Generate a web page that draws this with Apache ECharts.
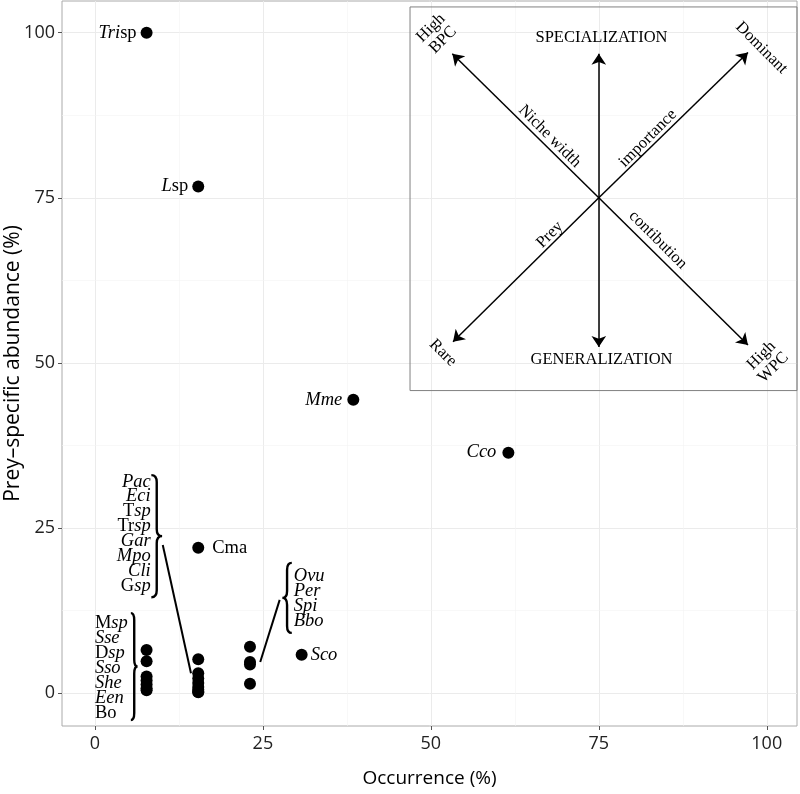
<!DOCTYPE html>
<html><head><meta charset="utf-8">
<script src="https://cdn.jsdelivr.net/npm/echarts@6/dist/echarts.min.js"></script>
<style>html,body{margin:0;padding:0;background:#fff}#c{width:800px;height:794px}</style>
</head><body><div id="c"></div>
<script>
// ---------- data ----------
const preyNames  = ['Trisp','Lsp','Mme','Cco','Cma','Sco',
                    'Msp','Sse','Dsp','Sso','She','Een','Bo',
                    'Pac','Eci','Tsp','Trsp','Gar','Mpo','Cli','Gsp',
                    'Ovu','Per','Spi','Bbo'];
const occurrence = [7.69,15.38,38.46,61.54,15.38,30.77,
                    7.69,7.69,7.69,7.69,7.69,7.69,7.69,
                    15.38,15.38,15.38,15.38,15.38,15.38,15.38,15.38,
                    23.08,23.08,23.08,23.08];
const abundance  = [100,76.7,44.4,36.4,22.0,5.8,
                    6.5,4.8,2.5,1.9,1.3,0.7,0.4,
                    5.1,3.0,2.2,1.5,0.9,0.5,0.2,0.1,
                    7.0,4.7,4.3,1.4];
const xTicks = [0,25,50,75,100];
const yTicks = [0,25,50,75,100];
const minorTicks = [12.5,37.5,62.5,87.5];
const groupLow   = ['Msp','Sse','Dsp','Sso','She','Een','Bo'];
const groupMid   = ['Pac','Eci','Tsp','Trsp','Gar','Mpo','Cli','Gsp'];
const groupRight = ['Ovu','Per','Spi','Bbo'];

// ---------- styling / annotation layout ----------
const SERIF = '"Liberation Serif","DejaVu Serif",serif';
const SANS = '"Open Sans","Noto Sans","Liberation Sans",sans-serif';
const markup = {Trisp:'{i|Tri}{u|sp}', Lsp:'{i|L}{u|sp}', Cma:'{u|Cma}', Msp:'{u|M}{i|sp}',
  Dsp:'{u|D}{i|sp}', Bo:'{u|Bo}', Tsp:'{u|T}{i|sp}', Trsp:'{u|Tr}{i|sp}', Gsp:'{u|G}{i|sp}'};
const fmt = n => markup[n] || ('{i|' + n + '}');
const rich = {
  i:{fontFamily:SERIF, fontStyle:'italic', fontSize:18.5, color:'#000'},
  u:{fontFamily:SERIF, fontSize:18.5, color:'#000'}
};
const pointLabel = {Trisp:['left',4], Lsp:['left',4], Mme:['left',5], Cco:['left',6], Cma:['right',8], Sco:['right',3]};
const groupLayout = [
  {names:groupLow,   x:0.0,  top:10.6, step:2.27, align:'left'},
  {names:groupMid,   x:8.3,  top:32.0, step:2.26, align:'right'},
  {names:groupRight, x:29.6, top:17.7, step:2.27, align:'left'}
];
const braces = [ // spine x, top y, bottom y, tip x
  [5.85, 12.1, -4.1, 6.35],
  [9.2, 33.0, 14.5, 10.0],
  [28.6, 19.7, 9.1, 27.9]
];
const connectors = [
  [[10.1,22.4],[14.3,3.0]],
  [[27.5,14.1],[24.6,4.7]]
];
const arrowCenter = [75,75];
const arrowTips = [[75,96.8],[75,52.4],[53.2,96.8],[97.2,97.0],[53.3,53.2],[97.2,52.7]];
const insetTexts = [
  ['SPECIALIZATION',75.4,99.2,0],
  ['GENERALIZATION',75.4,50.5,0],
  ['High\nBPC',50.9,99.8,45],
  ['Dominant',99.2,97.7,-45],
  ['Rare',51.8,51.5,-45],
  ['High\nWPC',100.1,50.2,45],
  ['Niche width',67.7,84.3,-45],
  ['importance',82.3,84.0,45],
  ['Prey',67.7,69.4,45],
  ['contibution',83.8,68.6,-45]
];

// ---------- build ----------
const pointData = preyNames.map((n,i) => {
  const item = {name:n, value:[occurrence[i], abundance[i]]};
  if (pointLabel[n]) {
    item.label = {show:true, position:pointLabel[n][0], distance:pointLabel[n][1], formatter:fmt(n), rich:rich,
      color:'#000', opacity:1, textBorderWidth:0};
  }
  return item;
});
const textData = [];
groupLayout.forEach(g => g.names.forEach((n,k) => {
  textData.push({value:[g.x, g.top - k*g.step], label:{show:true, position:'inside', align:g.align,
    verticalAlign:'middle', formatter:fmt(n), rich:rich, color:'#000', opacity:1, textBorderWidth:0}});
}));
insetTexts.forEach(t => {
  textData.push({value:[t[1],t[2]], label:{show:true, position:'inside', align:'center', verticalAlign:'middle',
    rotate:t[3], formatter:t[0], fontFamily:SERIF, fontSize:16.5, lineHeight:17, color:'#000', opacity:1, textBorderWidth:0}});
});

const gridLines = [];
xTicks.forEach(v => gridLines.push({xAxis:v, lineStyle:{color:'#ebebeb', width:1, type:'solid'}}));
yTicks.forEach(v => gridLines.push({yAxis:v, lineStyle:{color:'#ebebeb', width:1, type:'solid'}}));
minorTicks.forEach(v => gridLines.push({xAxis:v, lineStyle:{color:'#f4f4f4', width:0.6, type:'solid'}}));
minorTicks.forEach(v => gridLines.push({yAxis:v, lineStyle:{color:'#f4f4f4', width:0.6, type:'solid'}}));

function renderBrace(params, api) {
  const sx = api.value(0), top = api.value(1), bot = api.value(2), tipX = api.value(3);
  const pT = api.coord([sx, top]), pB = api.coord([sx, bot]);
  const pTip = api.coord([tipX, (top+bot)/2]);
  const x = pT[0], yT = pT[1], yB = pB[1], ym = pTip[1], w = pTip[0]-x;
  const r = 7, e = x - w;
  const d = 'M'+e+','+yT+' Q'+x+','+yT+' '+x+','+(yT+r)+' L'+x+','+(ym-r)+' Q'+x+','+ym+' '+(x+w)+','+ym+
            ' Q'+x+','+ym+' '+x+','+(ym+r)+' L'+x+','+(yB-r)+' Q'+x+','+yB+' '+e+','+yB;
  return {type:'path', shape:{pathData:d}, style:{fill:'none', stroke:'#000', lineWidth:2.4}};
}

const chart = echarts.init(document.getElementById('c'), null, {renderer:'canvas'});
chart.setOption({
  animation:false,
  backgroundColor:'#fff',
  grid:{left:62, right:3, top:1, bottom:68, containLabel:false, outerBoundsMode:'none',
    show:true, borderColor:'#aaa', borderWidth:1, backgroundColor:'transparent'},
  xAxis:{type:'value', min:-4.9, max:104.5,
    name:'Occurrence (%)', nameLocation:'middle', nameGap:43, nameMoveOverlap:false,
    nameTextStyle:{fontFamily:SANS, fontSize:19, color:'#000'},
    axisLine:{show:false, onZero:false}, splitLine:{show:false},
    axisTick:{show:true, customValues:xTicks, length:4, lineStyle:{color:'#555'}},
    axisLabel:{customValues:xTicks, margin:9, fontFamily:SANS, fontSize:18, color:'#222'}},
  yAxis:{type:'value', min:-5, max:104.8,
    name:'Prey\u2013specific abundance (%)', nameLocation:'middle', nameGap:38, nameMoveOverlap:false,
    nameTextStyle:{fontFamily:SANS, fontSize:21, color:'#000'},
    axisLine:{show:false, onZero:false}, splitLine:{show:false},
    axisTick:{show:true, customValues:yTicks, length:4, lineStyle:{color:'#555'}},
    axisLabel:{customValues:yTicks, margin:7, fontFamily:SANS, fontSize:18, color:'#222'}},
  series:[
    {type:'scatter', data:[], silent:true, z:0,
      markLine:{silent:true, z:0, symbol:['none','none'], label:{show:false}, animation:false, data:gridLines},
      markArea:{silent:true, z:1, label:{show:false},
        data:[[{coord:[46.9,103.9], itemStyle:{color:'rgba(0,0,0,0)', borderColor:'#808080', borderWidth:1}},{coord:[104.5,45.8]}]]}},
    {type:'lines', coordinateSystem:'cartesian2d', silent:true, z:3,
      symbol:['none','arrow'], symbolSize:11,
      lineStyle:{color:'#000', width:1.5, opacity:1},
      data:arrowTips.map(t => ({coords:[arrowCenter, t]}))},
    {type:'lines', coordinateSystem:'cartesian2d', silent:true, z:3,
      symbol:['none','none'], lineStyle:{color:'#000', width:2, opacity:1},
      data:connectors.map(c => ({coords:c}))},
    {type:'custom', renderItem:renderBrace, silent:true, z:3, data:braces},
    {type:'scatter', silent:true, z:4, symbol:'circle', symbolSize:0,
      itemStyle:{color:'#000', opacity:1}, data:textData},
    {type:'scatter', z:5, symbol:'circle', symbolSize:12, itemStyle:{color:'#000', opacity:1},
      label:{show:false}, data:pointData}
  ]
});
</script>
</body></html>
